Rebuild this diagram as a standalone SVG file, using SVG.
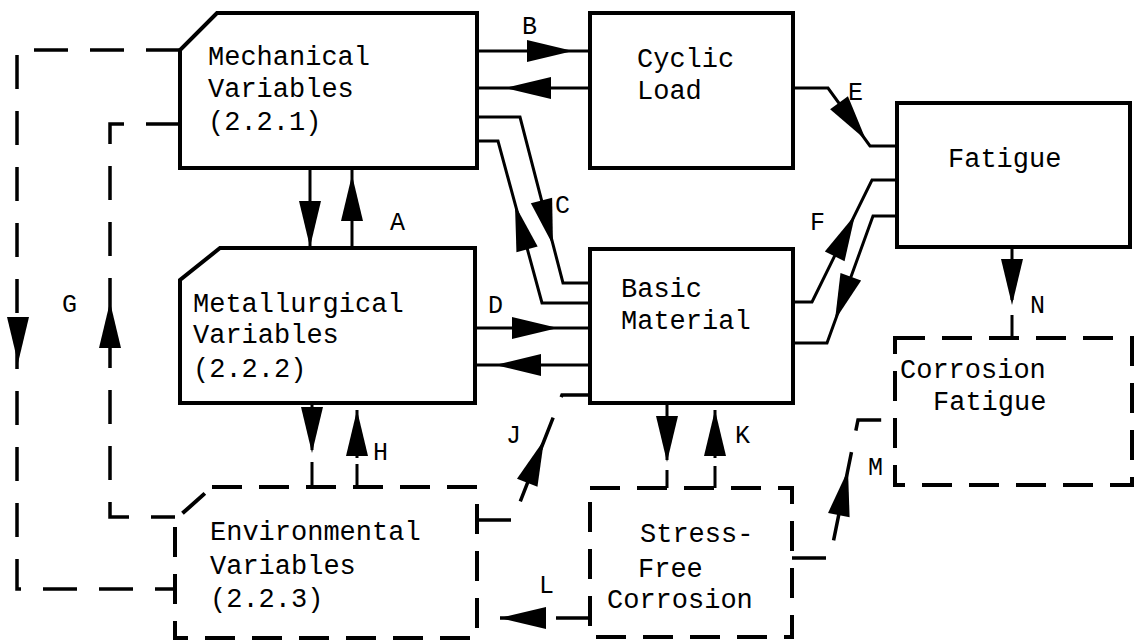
<svg xmlns="http://www.w3.org/2000/svg" xmlns:xlink="http://www.w3.org/1999/xlink" width="1135" height="643" viewBox="0 0 1135 643">
<style>
.box{fill:none;stroke:#000;stroke-width:4;stroke-linejoin:miter}
.dbox{fill:none;stroke:#000;stroke-width:4;stroke-dasharray:30 17}
.ln{fill:none;stroke:#000;stroke-width:3}
.dl{fill:none;stroke:#000;stroke-width:3.5;stroke-dasharray:34 22}
.t{font-family:"Liberation Mono","DejaVu Sans Mono",monospace;font-size:27px;fill:#000}
.lb{font-family:"Liberation Mono","DejaVu Sans Mono",monospace;font-size:25px;fill:#000}
</style>
<defs>
<path id="ah" d="M0,0 L-46,-11 L-46,11 Z" fill="#000"/>
</defs>
<rect width="1135" height="643" fill="#fff"/>
<g id="connectors">
<path class="ln" d="M477,51 H590"/><use xlink:href="#ah" transform="translate(573,51)"/>
<path class="ln" d="M590,88 H477"/><use xlink:href="#ah" transform="translate(505,88) rotate(180)"/>
<path class="ln" d="M477,117 H520 L563,283 H590"/><use xlink:href="#ah" transform="translate(553,245) rotate(75.5)"/>
<path class="ln" d="M477,141 H498 L542,303 H590"/><use xlink:href="#ah" transform="translate(515,205) rotate(-105.2)"/>
<path class="ln" d="M310,168 V248"/><use xlink:href="#ah" transform="translate(310,247) rotate(90)"/>
<path class="ln" d="M352,248 V168"/><use xlink:href="#ah" transform="translate(352,175) rotate(-90)"/>
<path class="ln" d="M475,328 H590"/><use xlink:href="#ah" transform="translate(558,328)"/>
<path class="ln" d="M590,365 H475"/><use xlink:href="#ah" transform="translate(495,365) rotate(180)"/>
<path class="ln" d="M793,88 H828 L870,146 H897"/><use xlink:href="#ah" transform="translate(866,140) rotate(54.1)"/>
<path class="ln" d="M897,180 H872 L812,302 H793"/><use xlink:href="#ah" transform="translate(855,215) rotate(-63.8)"/>
<path class="ln" d="M897,216 H873 L827,343 H793"/><use xlink:href="#ah" transform="translate(835,320) rotate(110.1)"/>
<path class="ln" d="M1012,247 V300 M1012,315 V338"/><use xlink:href="#ah" transform="translate(1012,305) rotate(90)"/>
<path class="ln" d="M312,403 V450"/><use xlink:href="#ah" transform="translate(312,453) rotate(90)"/>
<path class="ln" d="M312,462 V487"/>
<path class="ln" d="M357,410 V458 M357,464 V487"/><use xlink:href="#ah" transform="translate(357,410) rotate(-90)"/>
<path class="ln" d="M667,403 V460 M667,470 V488"/><use xlink:href="#ah" transform="translate(667,462) rotate(90)"/>
<path class="ln" d="M715,410 V458 M715,466 V488"/><use xlink:href="#ah" transform="translate(715,410) rotate(-90)"/>
<path class="dl" d="M477,520 H513 L562,395 H590"/><use xlink:href="#ah" transform="translate(544,440) rotate(-68.6)"/>
<path class="dl" d="M590,618 H477"/><use xlink:href="#ah" transform="translate(500,618) rotate(180)"/>
<path class="dl" d="M792,558 H830 L858,420 H895"/><use xlink:href="#ah" transform="translate(848,470) rotate(-78.5)"/>
<path class="dl" d="M180,50 H17 V589 H175"/><use xlink:href="#ah" transform="translate(18,363) rotate(90)"/>
<path class="dl" d="M180,124 H110 V517 H175"/><use xlink:href="#ah" transform="translate(110,302) rotate(-90)"/>
<text class="lb" x="522" y="34">B</text>
<text class="lb" x="390" y="230">A</text>
<text class="lb" x="555" y="213">C</text>
<text class="lb" x="848" y="100">E</text>
<text class="lb" x="810" y="230">F</text>
<text class="lb" x="488" y="313">D</text>
<text class="lb" x="62" y="312">G</text>
<text class="lb" x="373" y="460">H</text>
<text class="lb" x="506" y="443">J</text>
<text class="lb" x="735" y="443">K</text>
<text class="lb" x="539" y="593">L</text>
<text class="lb" x="868" y="475">M</text>
<text class="lb" x="1030" y="313">N</text>
</g>
<g id="mech">
<path class="box" d="M217,13 H477 V168 H180 V50 Z"/>
<text class="t" x="208" y="65">Mechanical</text>
<text class="t" x="208" y="97">Variables</text>
<text class="t" x="208" y="130">(2.2.1)</text>
</g>
<g id="cyclic">
<rect class="box" x="590" y="13" width="203" height="155"/>
<text class="t" x="637" y="67">Cyclic</text>
<text class="t" x="637" y="99">Load</text>
</g>
<g id="fatigue">
<rect class="box" x="897" y="103" width="233" height="144"/>
<text class="t" x="948" y="167">Fatigue</text>
</g>
<g id="met">
<path class="box" d="M220,248 H475 V403 H180 V280 Z"/>
<text class="t" x="193" y="312">Metallurgical</text>
<text class="t" x="193" y="343">Variables</text>
<text class="t" x="193" y="377">(2.2.2)</text>
</g>
<g id="basic">
<rect class="box" x="590" y="249" width="203" height="154"/>
<text class="t" x="621" y="297">Basic</text>
<text class="t" x="621" y="329">Material</text>
</g>
<g id="env">
<path class="dbox" d="M212,487 H477 V638 H175 V520 Z"/>
<text class="t" x="210" y="540">Environmental</text>
<text class="t" x="210" y="574">Variables</text>
<text class="t" x="210" y="607">(2.2.3)</text>
</g>
<g id="sfc">
<rect class="dbox" x="590" y="488" width="202" height="149"/>
<text class="t" x="640" y="542">Stress-</text>
<text class="t" x="638" y="577">Free</text>
<text class="t" x="607" y="608">Corrosion</text>
</g>
<g id="cf">
<rect class="dbox" x="895" y="338" width="237" height="147"/>
<text class="t" x="900" y="378">Corrosion</text>
<text class="t" x="933" y="410">Fatigue</text>
</g>
</svg>
